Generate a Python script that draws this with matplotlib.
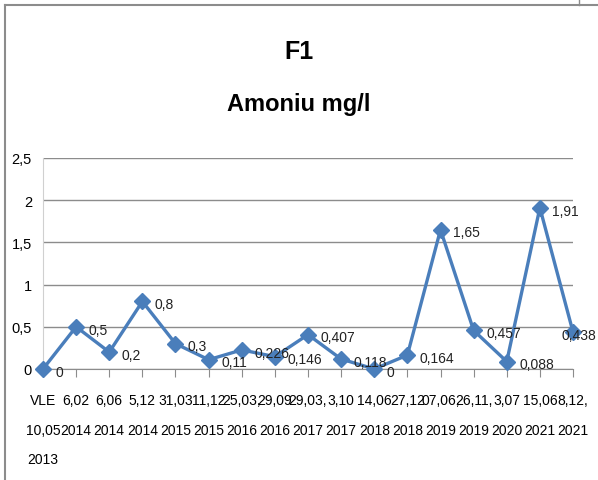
import matplotlib.pyplot as plt
from matplotlib.lines import Line2D

# Sampling dates (day,month / year) and ammonium values
dates = ["VLE\n10,05\n2013", "6,02\n2014", "6,06\n2014", "5,12\n2014", "31,03\n2015",
         "11,12\n2015", "25,03,\n2016", "29,09\n2016", "29,03,\n2017", "3,10\n2017",
         "14,06\n2018", "27,12\n2018", "07,06,\n2019", "26,11,\n2019", "3,07\n2020",
         "15,06\n2021", "8,12,\n2021"]
values = [0, 0.5, 0.2, 0.8, 0.3, 0.11, 0.226, 0.146, 0.407, 0.118, 0,
          0.164, 1.65, 0.457, 0.088, 1.91, 0.438]
yticks = [0, 0.5, 1, 1.5, 2, 2.5]

plt.rcParams['font.family'] = ['Liberation Sans', 'DejaVu Sans']

fig = plt.figure(figsize=(5.98, 4.81), dpi=100)
ax = fig.add_axes([0.0719, 0.2308, 0.8863, 0.4387])

x = list(range(len(values)))
ax.plot(x, values, color="#4A7EBB", linewidth=2.4, marker="D", markersize=8,
        markerfacecolor="#4A7EBB", markeredgecolor="#4A7EBB", clip_on=False, zorder=3)

# data labels to the right of each point, decimal comma
for xi, v in zip(x, values):
    txt = ("%g" % v).replace(".", ",")
    if xi == len(values) - 1:
        # last label pushed back inside the frame
        ax.annotate(txt, (xi, v), xytext=(17, -2), textcoords="offset points",
                    va="center", ha="right", fontsize=10, color="#222222", zorder=4)
    else:
        ax.annotate(txt, (xi, v), xytext=(9, -2), textcoords="offset points",
                    va="center", ha="left", fontsize=10, color="#222222", zorder=4)

ax.set_xlim(0, len(values) - 1)
ax.set_ylim(0, 2.5)
ax.set_yticks(yticks)
ax.set_yticklabels([("%g" % t).replace(".", ",") for t in yticks], fontsize=10.5)
ax.set_xticks(x)
ax.set_xticklabels(dates, fontsize=10, linespacing=2.45)
ax.yaxis.grid(True, color="#8c8c8c", linewidth=1)
ax.set_axisbelow(True)
ax.tick_params(axis="y", length=0, pad=8)
ax.tick_params(axis="x", length=6, color="#8c8c8c", pad=11, direction="out")

for s in ["top", "right"]:
    ax.spines[s].set_visible(False)
ax.spines["left"].set_color("#d0d0d0")
ax.spines["bottom"].set_color("#8c8c8c")

# titles
fig.text(0.5, 1 - 52 / 481, "F1", ha="center", va="center", fontsize=18, fontweight="bold")
fig.text(0.5, 1 - 104 / 481, "Amoniu mg/l", ha="center", va="center", fontsize=17,
         fontweight="bold")

# chart frame (left and top edges visible, plus the neighbour cell line)
fig.lines.append(Line2D([5 / 598, 5 / 598], [0, 1 - 6 / 481], transform=fig.transFigure,
                        color="#8c8c8c", linewidth=1.5))
fig.lines.append(Line2D([5 / 598, 1], [1 - 6 / 481, 1 - 6 / 481], transform=fig.transFigure,
                        color="#8c8c8c", linewidth=1.5))
fig.lines.append(Line2D([579 / 598, 579 / 598], [1 - 6 / 481, 1], transform=fig.transFigure,
                        color="#8c8c8c", linewidth=1))

fig.savefig("out.png", dpi=100)
